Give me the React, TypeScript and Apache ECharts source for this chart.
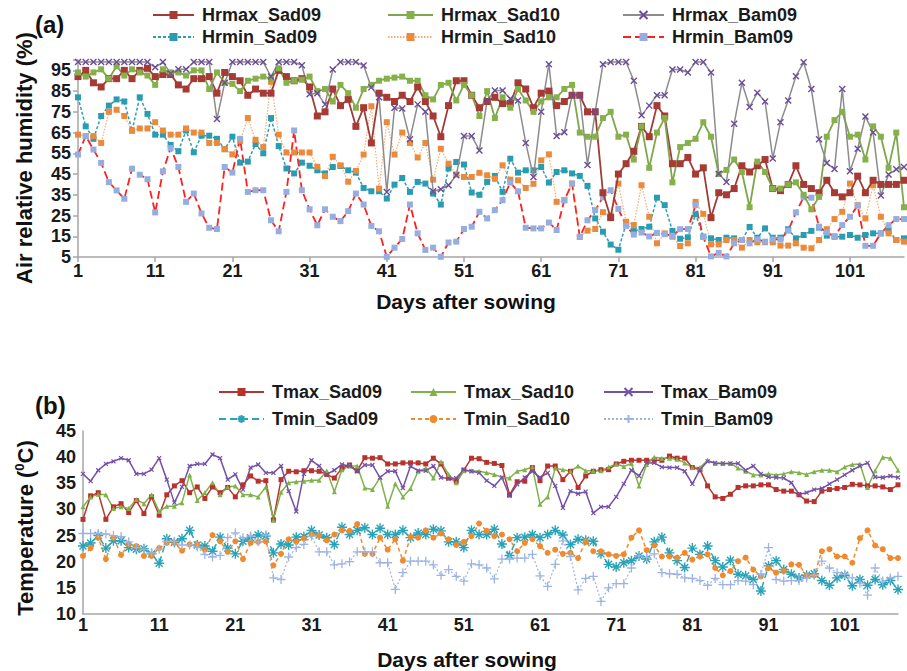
import { useEffect, useRef } from "react";
import * as echarts from "echarts";

const FONT = '"Liberation Sans", Arial, sans-serif';

// Days after sowing (categories)
const days: string[] = [];
for (let i = 1; i <= 108; i++) days.push(String(i));

// Panel (a): air relative humidity (%)
const hrmaxSad09 = [92,95,89,87,91,91,95,91,95,96,92,93,93,88,86,91,91,92,84,94,92,90,83,86,84,84,95,92,90,91,87,73,75,86,78,81,68,77,60,84,82,80,83,80,87,80,73,63,78,90,90,83,77,80,82,79,79,89,86,77,84,85,78,80,83,83,75,75,36,24,45,50,56,68,63,78,73,50,50,53,45,48,24,36,35,38,49,46,49,52,38,37,40,49,40,38,36,42,36,34,36,44,36,42,40,40,40,42];
const hrmaxSad10 = [94,92,94,95.5,91,97,92.5,95.5,94,92.5,88,95.5,94,94,92.5,95,95,86,94,89,88.5,85,90,91,92,91,96,89,90,90.5,92,85,86,80,88,84,77,86,88,90,91,91.5,92,90,90,83,81,88,89,80.5,88,83,73,85,72,82,77,86,80.5,75,80,82,82,86,88,65,63,63,72,75,63,64,52,68,48,65,72,41,58,60,62,70,63,45,47,52,46,29,51,46,38,38,40,41,35,28,34,63,71,75,63,64,52,68,63,48,65,29];
const hrmaxBam09 = [99,99,99,99,99,99,99,99,99,99,96.5,99,93.5,95.5,95.5,99,99,99,71.5,89,99,99,99,99,99,92,99,99,99,97.5,83.5,84,78.6,95.4,99,99,99,97.3,86.8,82,36.4,77,76.6,61.8,78.6,75,36.7,37.7,39.6,44.4,63.3,63.3,56.4,80.5,85.3,85.3,81.3,80.5,60,43.6,75.1,98,63.3,65.2,82.9,82.9,49.4,75.1,98,99,99,99,90,73.3,78,83,83,95.4,95.4,94,99,99,94,45.2,41.2,69.3,89,77.3,84.2,80,52.5,70,80.5,92.2,98.9,86,61.8,50.3,47.4,86,46.4,57.2,72.8,65,34.6,44.8,47.3,48.4];
const hrminSad09 = [82,68,62,73,78,81,80,66,82,74,64,64,59,56,66,55.5,63.5,63.5,62,57,63,50.5,51,59.5,55,72,58.5,47.7,45.3,50.5,49,46.8,45.3,48.4,48.9,46.8,45.7,38.3,36.7,36.7,33.2,39.9,43.1,36.4,41.2,40.4,35.6,30.3,47.7,50.8,49.6,36.1,35,41.2,44.1,36.4,52.4,45.7,46.8,46.8,48.4,40.9,46,46.8,45.3,44.1,39.3,23.6,17.2,11,8.5,21,17.5,18.5,19.6,33.6,30,17.6,13.8,14.5,25.6,14.8,14,13.2,14.3,14,13.2,19.5,14.3,18.8,14.3,14.3,18.4,14,15.6,17.6,19.2,15.3,14.8,14.8,15.6,14.3,15.6,16.4,16.4,18,13.2,14];
const hrminSad10 = [64,63.3,63.3,60,75,76,73,66,67,67,70,66,64,64,67,65,65,60,60,57,54.5,61,72,61.5,58,89.5,64,55.4,55.4,55.4,55.4,48.5,44,53.3,49.2,41.3,46.5,54.4,77.7,38,70,54.4,65,60,53,60,42.3,57.2,50,44.8,43.6,43.6,45.6,44.4,42.7,49.2,42.3,42,38.3,40.3,51.6,54.5,31.6,32.4,40.4,14.7,17.7,18.5,26.6,25,40.4,22,20.4,39.6,24.4,11.6,16.4,14.8,10.3,11.6,31.6,25.8,11.1,11.1,13.2,13.2,9.5,13.2,12.1,12.1,12.1,10.5,10.5,11.6,9.5,9.2,13.2,18.4,23.3,26.8,40.4,30,23.6,39.6,24.4,16.4,13.2,12.4];
const hrminBam09 = [54.4,63.3,56.8,50.4,41.1,37.1,33.1,47.6,44.7,42.5,26.5,46.3,57.5,48.4,31.6,35.6,26,19.1,18.5,48.4,45.7,62,36.4,37.2,37.2,22.7,17.4,36.4,66,37.2,28,20.3,28,24.4,22.3,27.1,35.6,30.3,20,17.4,5.1,9.5,13.7,30.3,16.4,8.4,9.5,5.1,12,12.4,18.5,19.6,26.8,23.6,27.6,32.4,40.9,36.7,19.1,18.8,18.8,21.6,18,32.4,40.4,14.7,22.7,27.6,33.8,37.2,28.2,20,15.8,16.8,14.9,16.6,16,15.2,18.4,18.5,30,14.6,5.3,7,5.3,11.6,13.2,11.6,13.5,12.4,13.5,13.5,17.7,26.5,33.8,33.6,19.6,16.8,15,20.4,24.4,29.8,10.4,10.4,16.4,20.3,23.3,23.3];

// Panel (b): temperature (°C)
const tmaxSad09 = [28.1,32.6,33.2,28.1,30.5,31.1,29.4,31.7,29.2,32.4,28.9,32.8,34.5,35.5,33.2,34.3,32.1,34.3,33.2,34.2,32.4,34.7,36.4,35.4,35.5,28,35.7,37.3,37.2,37.4,37.4,37.3,36.7,36,37.9,38.5,37.4,39.9,39.8,39.9,38.7,38.7,38.9,38.9,38.9,38.7,39.8,38.7,36,35.4,37.5,39.8,39.7,39,38.8,38.4,32.8,35.3,35.4,38,35.5,38.3,38.3,35.7,37.3,34.2,36.4,37.3,37.6,37.6,38.7,39.2,39.4,39.4,39.4,39.4,39.4,40.2,39.8,39.8,38,37.6,34.5,32.4,32.1,32.9,34.2,34.5,34.5,34.7,34.7,33.8,33.5,33.5,32.8,31.6,31.5,33.5,33.8,34,34.2,34.8,34.7,34.5,34.5,34.3,33.8,34.7];
const tmaxSad10 = [30.5,32.4,32.9,32.8,30.2,30.5,30.2,31.9,31.1,32.8,29.6,30.6,30.6,31.3,36.6,31.7,33.2,35.1,32.8,34.3,34.5,32.8,32.8,32.4,34.3,28,33.3,35.1,35.3,35.4,35.6,35.6,37.4,33.4,37.6,38.3,38.3,34.1,33.8,36.1,30.6,34.9,32.4,34,37.3,37.9,36,39.1,36.7,35.1,37.4,37.4,37.3,37,36.7,36.1,36,37.3,37.6,38.1,31,32.4,37.9,37.6,37.3,38.3,37.4,37.4,37.4,38.1,38.7,38.2,38.8,34.5,38.6,40,39.8,39.8,39.6,38.9,38,38,39.4,38.8,38.8,38.8,37.9,37.3,36.6,36.6,36.8,36.6,36.8,37.2,37,36.7,37.2,37.5,37.5,37.2,38.1,38.6,38.7,34.2,37.4,40,39.8,37.5];
const tmaxBam09 = [36.8,35.4,37.5,38.7,39.2,39.8,39.4,36.8,36.8,37.6,39.8,35.7,31.3,34.3,38.3,38.7,38.7,40.5,39.8,35.7,36.7,33.8,38,38.6,37,37,38.3,33.5,29.6,36.8,39.4,38.3,36.7,37.5,38.6,38.3,37.3,38.5,38.5,36.1,37.3,37.3,34.1,38.3,37.4,37.4,38.3,36.1,35.9,36,37.6,37.3,37,35.5,34.5,36.1,32.6,34.8,36.1,37.3,36.1,37,34.5,30.3,33.5,33,33.4,29.3,30.5,30.5,32.4,34.9,37.5,36.4,38.9,38.9,38.1,38,38,37.3,34.9,37.6,39.2,38.9,38.8,38.8,38.8,37.5,38.3,36.8,36.2,36.1,36,35.1,32.9,33.2,33.8,34,34.9,35.7,36.6,37.5,38.3,38.9,36.2,36.1,36.4,36.1];
const tminSad09 = [23,23.6,25,22.6,24,24,22.7,22.4,22.5,21.5,19.7,24.4,23.7,24.4,26,23.2,23,22,24.7,22.6,21.5,23.9,24.6,25.1,24.9,21.7,23.4,23.2,24.7,24.8,26,25.1,24.6,23.3,26.6,25.2,26,26.5,25.2,26.4,25.2,25.2,26,24.6,25.5,25.2,26.2,25.9,23.8,23.8,22.7,26,25.2,25.2,26.2,23.4,21.2,24.6,24.7,25.2,24.6,25.2,26,25.1,23.3,24.3,24.1,23.9,21.5,19.5,19,19.8,20.2,21.1,20.5,23.8,24.7,21.7,20.2,18.9,22.6,21.4,23,20.2,19,20.3,17.6,17.3,16.6,14.4,19.2,20.2,18.5,17.6,16.9,17.4,17.7,16.4,15.5,16.9,17.4,15.4,16.6,15.5,16.6,15.6,16.4,14.7];
const tminSad10 = [21.1,22.6,24.6,20.5,24.6,21.3,23.3,23,21.1,21.1,22.6,23.6,23.6,22.1,23.3,23.3,22.3,25.1,23.9,21.9,23.9,20.5,23.6,23.8,23.9,19.3,21.5,24.3,23.8,24.4,25.2,25,24.1,25.2,26,25.9,27.2,21.5,21.5,24.6,22.3,24.3,20.2,24.7,24.6,26,24.6,25.4,24.3,23.2,23.8,24.9,27.3,25.9,24.9,25.2,24.3,22,23.6,24.3,23,21.7,22.3,21.5,21.7,20.7,23.9,22,22,21.4,21.1,21.4,24.6,26,22.2,23.1,21,21,20.8,21.7,20.4,21,21.4,18.8,17.4,18.2,20.1,20.8,18.5,17.2,18.8,17.9,18.2,19.5,19.4,17.4,17.4,22,22.4,21,21,19.8,24.5,26,23.1,22.4,20.7,20.7];
const tminBam09 = [25.4,25.4,25.4,25.3,25,24.8,23.8,22.7,22.4,21.7,22.4,23.9,23.9,23.2,23.2,22.8,21.4,20.9,21.2,24.6,25.5,24.6,24.9,23.8,25.1,16.9,16.6,20.9,22.7,23.3,24.9,21.9,21.9,19.4,19.6,20,21.9,21.9,21.9,19.8,19.8,14.7,17.9,20.1,20.1,20.1,19.4,17.4,18.5,17.2,16.3,19.6,19.4,18.8,16.7,20.5,20.5,20.7,20.7,21.4,17.3,15.3,19.5,24,21,14.6,16.8,17.2,12.4,15,15.8,15.8,18.8,21.1,20.8,21.5,17.9,17.7,17.6,16.9,16.8,16.4,15.5,16.8,15.6,15.6,16.4,16.3,15.6,17.6,22.7,16.6,16.3,16.4,16.4,16.9,17.4,20.1,18.8,17.9,17.6,16.9,15.9,13.6,18.8,16.3,16.9,17.2];

// Axis ranges / tick steps
const humidityAxis = { min: 5, max: 100, step: 10 };
const tempAxis = { min: 10, max: 45, step: 5 };

const SYM_X = "path://M0,0L10,10M10,0L0,10";
const SYM_AST = "path://M5,0L5,10M0,5L10,5M1.5,1.5L8.5,8.5M8.5,1.5L1.5,8.5";
const SYM_PLUS = "path://M5,0L5,10M0,5L10,5";

type SeriesSpec = {
  name: string;
  data: number[];
  panel: number;
  line: string;
  width: number;
  type: any;
  symbol: string;
  size: number;
  fill: string;
  stroke?: string;
  strokeWidth?: number;
};

const specs: SeriesSpec[] = [
  { name: "Hrmax_Sad09", data: hrmaxSad09, panel: 0, line: "#a03c37", width: 1.8, type: "solid", symbol: "rect", size: 7, fill: "#a63a35" },
  { name: "Hrmax_Sad10", data: hrmaxSad10, panel: 0, line: "#7ea64a", width: 1.8, type: "solid", symbol: "rect", size: 6, fill: "#86b04a" },
  { name: "Hrmax_Bam09", data: hrmaxBam09, panel: 0, line: "#8c8c8c", width: 1.5, type: "solid", symbol: SYM_X, size: 6, fill: "#6b4c9a", stroke: "#6b4c9a", strokeWidth: 1.4 },
  { name: "Hrmin_Sad09", data: hrminSad09, panel: 0, line: "#2e9db3", width: 1.5, type: [3, 2], symbol: "rect", size: 6, fill: "#2a9cb2" },
  { name: "Hrmin_Sad10", data: hrminSad10, panel: 0, line: "#f2ad78", width: 1.2, type: [1.5, 1.5], symbol: "rect", size: 6, fill: "#e98a3c" },
  { name: "Hrmin_Bam09", data: hrminBam09, panel: 0, line: "#ff1f1f", width: 1.8, type: [8, 4], symbol: "rect", size: 6, fill: "#95aedf" },
  { name: "Tmax_Sad09", data: tmaxSad09, panel: 1, line: "#b53530", width: 1.5, type: "solid", symbol: "rect", size: 5, fill: "#b8332e" },
  { name: "Tmax_Sad10", data: tmaxSad10, panel: 1, line: "#7fb24a", width: 1.5, type: "solid", symbol: "triangle", size: 5, fill: "#7fb24a" },
  { name: "Tmax_Bam09", data: tmaxBam09, panel: 1, line: "#7550a8", width: 1.5, type: "solid", symbol: SYM_X, size: 4, fill: "#7550a8", stroke: "#7550a8", strokeWidth: 1.2 },
  { name: "Tmin_Sad09", data: tminSad09, panel: 1, line: "#2aa3b8", width: 1.5, type: [7, 4], symbol: SYM_AST, size: 10, fill: "#2aa3b8", stroke: "#2aa3b8", strokeWidth: 1.4 },
  { name: "Tmin_Sad10", data: tminSad10, panel: 1, line: "#f08a2e", width: 1.5, type: [4, 3], symbol: "circle", size: 6, fill: "#f08a2e" },
  { name: "Tmin_Bam09", data: tminBam09, panel: 1, line: "#9db4e3", width: 1.2, type: [2, 2], symbol: SYM_PLUS, size: 9, fill: "#9db4e3", stroke: "#9db4e3", strokeWidth: 1.3 },
];

// legend layout: [name, left, top, iconWidth]
const legendPos: [string, number, number, number][] = [
  ["Hrmax_Sad09", 152, 6, 41],
  ["Hrmax_Sad10", 387, 6, 45],
  ["Hrmax_Bam09", 622, 6, 41],
  ["Hrmin_Sad09", 152, 28, 41],
  ["Hrmin_Sad10", 387, 28, 45],
  ["Hrmin_Bam09", 622, 28, 41],
  ["Tmax_Sad09", 218, 383, 45],
  ["Tmax_Sad10", 410, 383, 45],
  ["Tmax_Bam09", 603, 383, 49],
  ["Tmin_Sad09", 218, 410, 45],
  ["Tmin_Sad10", 410, 410, 45],
  ["Tmin_Bam09", 603, 410, 49],
];

const labelStyle = { fontFamily: FONT, fontSize: 18, fontWeight: "bold" as const, color: "#1a1a1a" };
const axisLineStyle = { color: "#a6a6a6", width: 1.5 };

export default function App() {
  const ref = useRef<HTMLDivElement>(null);
  useEffect(() => {
    if (!ref.current) return;
    const chart = echarts.init(ref.current, undefined, { renderer: "svg" });
    const option: any = {
      animation: false,
      backgroundColor: "#ffffff",
      grid: [
        { left: 78, right: 3, top: 60, height: 197 },
        { left: 83, right: 9, top: 431, height: 183 },
      ],
      xAxis: [0, 1].map((g) => ({
        type: "category",
        gridIndex: g,
        data: days,
        boundaryGap: false,
        axisLine: { show: true, lineStyle: axisLineStyle },
        axisTick: { show: g === 0, interval: 9, length: 5, lineStyle: axisLineStyle },
        axisLabel: { ...labelStyle, interval: 9, margin: g === 0 ? 5 : 2 },
        splitLine: { show: false },
      })),
      yAxis: [
        {
          type: "value",
          gridIndex: 0,
          min: humidityAxis.min,
          max: humidityAxis.max,
          interval: humidityAxis.step,
          axisLine: { show: true, lineStyle: axisLineStyle },
          axisTick: { show: true, length: 5, lineStyle: axisLineStyle },
          axisLabel: { ...labelStyle, margin: 7, formatter: (v: number) => (v >= 100 ? "" : String(v)) },
          splitLine: { show: false },
        },
        {
          type: "value",
          gridIndex: 1,
          min: tempAxis.min,
          max: tempAxis.max,
          interval: tempAxis.step,
          axisLine: { show: true, lineStyle: axisLineStyle },
          axisTick: { show: false },
          axisLabel: { ...labelStyle, margin: 7 },
          splitLine: { show: false },
        },
      ],
      legend: legendPos.map(([name, left, top, w]) => ({
        data: [name],
        left,
        top,
        padding: 0,
        itemWidth: w,
        itemHeight: 10,
        selectedMode: false,
        textStyle: { fontFamily: FONT, fontSize: 18, fontWeight: "bold", color: "#1a1a1a", padding: [0, 0, 0, 3] },
      })),
      series: specs.map((s) => ({
        name: s.name,
        type: "line",
        xAxisIndex: s.panel,
        yAxisIndex: s.panel,
        data: s.data,
        symbol: s.symbol,
        symbolSize: s.size,
        showSymbol: true,
        showAllSymbol: true,
        lineStyle: { color: s.line, width: s.width, type: s.type },
        itemStyle: s.stroke
          ? { color: s.fill, borderColor: s.stroke, borderWidth: s.strokeWidth }
          : { color: s.fill, borderWidth: 0 },
        emphasis: { disabled: true },
        z: s.panel === 0 && s.name.startsWith("Hrmax") ? 3 : 2,
      })),
      graphic: [
        { type: "text", x: 35, y: 24, style: { text: "(a)", font: `bold 24px ${FONT}`, fill: "#111", textAlign: "left", textVerticalAlign: "middle", align: "left", verticalAlign: "middle" } },
        { type: "text", x: 35, y: 405, style: { text: "(b)", font: `bold 24px ${FONT}`, fill: "#111", textAlign: "left", textVerticalAlign: "middle", align: "left", verticalAlign: "middle" } },
        { type: "text", x: 24, y: 158, rotation: Math.PI / 2, style: { text: "Air relative humidity (%)", font: `bold 22px ${FONT}`, fill: "#111", textAlign: "center", textVerticalAlign: "middle", align: "center", verticalAlign: "middle" } },
        {
          type: "text", x: 25, y: 528, rotation: Math.PI / 2,
          style: {
            text: "{a|Temperature (}{s|0}{a|C)}",
            textAlign: "center", textVerticalAlign: "middle", align: "center", verticalAlign: "middle",
            rich: {
              a: { font: `bold 22px ${FONT}`, fill: "#111", color: "#111", lineHeight: 24 },
              s: { font: `bold 13px ${FONT}`, fill: "#111", color: "#111", lineHeight: 24, verticalAlign: "top", padding: [0, 0, 8, 0] },
            },
          },
        },
        { type: "text", x: 466, y: 301, style: { text: "Days after sowing", font: `bold 21px ${FONT}`, fill: "#111", textAlign: "center", textVerticalAlign: "middle", align: "center", verticalAlign: "middle" } },
        { type: "text", x: 467, y: 659, style: { text: "Days after sowing", font: `bold 21px ${FONT}`, fill: "#111", textAlign: "center", textVerticalAlign: "middle", align: "center", verticalAlign: "middle" } },
      ],
    };
    chart.setOption(option);
    return () => chart.dispose();
  }, []);
  return <div ref={ref} style={{ position: "absolute", left: 0, top: 0, width: 907, height: 671 }} />;
}
